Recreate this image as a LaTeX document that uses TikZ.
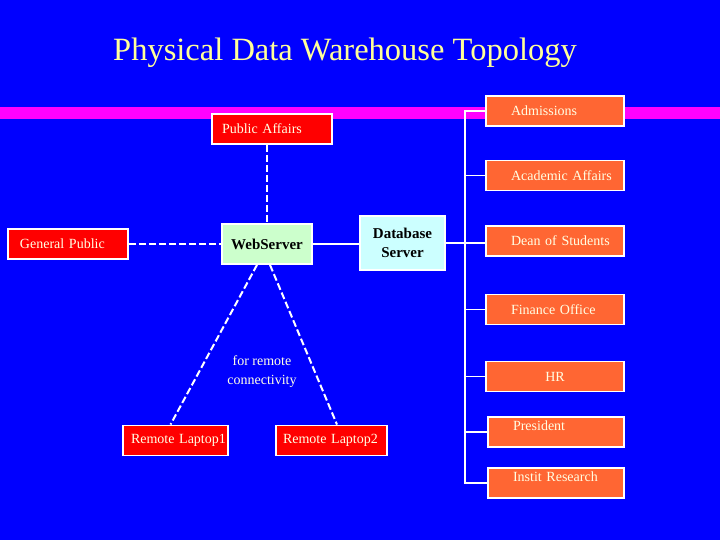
\documentclass[tikz,border=0pt]{standalone}
\usepackage{fontspec}
\setmainfont{Liberation Serif}
\usetikzlibrary{calc}
\definecolor{slideblue}{RGB}{0,0,255}
\definecolor{titleyellow}{RGB}{255,255,153}
\definecolor{deptorange}{RGB}{255,102,51}
\definecolor{hostred}{RGB}{255,0,0}
\definecolor{weblime}{RGB}{204,255,204}
\definecolor{dbcyan}{RGB}{204,255,255}
\definecolor{barmagenta}{RGB}{255,0,255}
\definecolor{boxtext}{RGB}{255,255,228}

\begin{document}
\begin{tikzpicture}[x=1pt,y=-1pt,
		box/.style={draw=white,line width=1.8pt,inner xsep=0pt,inner ysep=0pt,minimum height=30pt,
			text width=#1,align=left,text=boxtext,font=\fontsize{14}{16}\selectfont},
		indent/.style={execute at begin node={\hspace*{#1}}},
		dept/.style={box=138pt,fill=deptorange,indent=25pt},
		host/.style={box=#1,fill=hostred},
		server/.style={draw=white,line width=1.8pt,inner sep=0pt,align=center,text=black,
			font=\bfseries\fontsize{15}{19}\selectfont},
		busline/.style={draw=white,line width=1.8pt},
		dashlink/.style={draw=white,line width=2pt,dash pattern=on 7pt off 3pt}]
	\fill[slideblue] (0,0) rectangle (720,540);
	\useasboundingbox (0,0) rectangle (720,540);
	% title and the magenta rule
	\node[text=titleyellow,font=\fontsize{32.5}{38}\selectfont] (title) at (345,53) {Physical Data Warehouse Topology};
	\fill[barmagenta] (0,107) rectangle (720,119);
	% offices on the right
	\node[dept] (adm) at (555,111) {Admissions};
	\node[dept] (aa) at (555,175.5) {Academic Affairs};
	\node[dept] (ds) at (555,241) {Dean of Students};
	\node[dept] (fo) at (555,309.5) {Finance Office};
	\node[box=138pt,fill=deptorange,align=center] (hr) at (555,376.5) {HR};
	\node[dept,box=136pt,text depth=12pt] (pres) at (556,432) {President};
	\node[dept,box=136pt,text depth=12pt] (ir) at (556,483) {Instit Research};
	% servers
	\node[server,fill=weblime,minimum width=90pt,minimum height=40pt] (ws) at (267,244) {WebServer};
	\node[server,fill=dbcyan,minimum width=85pt,minimum height=54pt] (db) at (402.5,243) {Database\\Server};
	% outside users
	\node[host=120pt,indent=12pt] (gp) at (68,244) {General Public};
	\node[host=120pt,indent=10pt] (pa) at (272,129) {Public Affairs};
	\node[host=105pt,indent=8pt] (rl1) at (175.5,440.5) {Remote Laptop1};
	\node[host=111pt,indent=7pt] (rl2) at (331.5,440.5) {Remote Laptop2};
	\node[text=boxtext,align=center,font=\fontsize{14}{19}\selectfont] (remote) at (262,372) {for remote\\connectivity};
	% the bus to the offices
	\coordinate (bus) at (465,0);
	\draw[busline] (adm.west) -| (bus |- ir.west) -- (ir.west);
	\draw[busline] (aa.west) -- (bus |- aa.west);
	\draw[busline] (fo.west) -- (bus |- fo.west);
	\draw[busline] (hr.west) -- (bus |- hr.west);
	\draw[busline] (pres.west) -- (bus |- pres.west);
	\draw[busline] (db.east) -- (db.east -| ds.west);
	\draw[busline] (ws.east) -- (ws.east -| db.west);
	% dashed links to the web server
	\draw[dashlink] (gp.east) -- (ws.west);
	\draw[dashlink] (ws.north |- pa.south) -- (ws.north);
	\draw[dashlink] ([xshift=-10pt]ws.south) -- ([xshift=-5pt]rl1.north);
	\draw[dashlink] ([xshift=3pt]ws.south) -- ([xshift=5.5pt]rl2.north);
\end{tikzpicture}
\end{document}
